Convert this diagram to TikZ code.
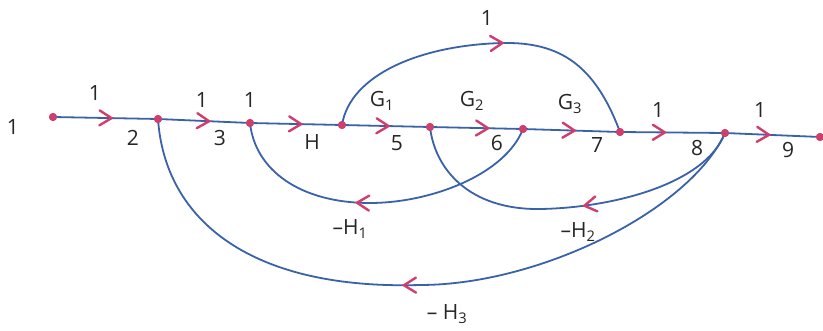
\documentclass[tikz,border=0pt]{standalone}
\usepackage{fontspec}
\setmainfont{Open Sans}
\usetikzlibrary{decorations.markings}
\definecolor{wire}{RGB}{58,98,168}
\definecolor{tipc}{RGB}{208,62,110}
\tikzset{
  wireline/.style={draw=wire, line width=1.8pt},
  chev/.style={postaction={decorate,decoration={markings,mark=at position #1 with {\draw[tipc,line width=2.4pt,line cap=round] (-6pt,-7.5pt)--(6pt,0pt)--(-6pt,7.5pt);}}}},
  sfgdot/.style={circle,fill=tipc,inner sep=0pt,minimum size=8pt},
  lab/.style={font=\fontsize{21}{24}\selectfont, inner sep=0pt, text=black!85}
}
\begin{document}
\begin{tikzpicture}[x=1pt,y=-1pt]
\useasboundingbox[fill=white] (0,0) rectangle (823,331);
% nodes
\node[sfgdot] (n1) at (53,117) {};
\node[sfgdot] (n2) at (158,119) {};
\node[sfgdot] (n3) at (250,123) {};
\node[sfgdot] (n4) at (342,125) {};
\node[sfgdot] (n5) at (430,127) {};
\node[sfgdot] (n6) at (523,129) {};
\node[sfgdot] (n7) at (620,132) {};
\node[sfgdot] (n8) at (725,133) {};
\node[sfgdot] (n9) at (820,137) {};
% main branches
\draw[wireline, chev=0.5]  (n1.center) -- (n2.center);
\draw[wireline, chev=0.49] (n2.center) -- (n3.center);
\draw[wireline, chev=0.49] (n3.center) -- (n4.center);
\draw[wireline, chev=0.46] (n4.center) -- (n5.center);
\draw[wireline, chev=0.56] (n5.center) -- (n6.center);
\draw[wireline, chev=0.47] (n6.center) -- (n7.center);
\draw[wireline, chev=0.37] (n7.center) -- (n8.center);
\draw[wireline, chev=0.40] (n8.center) -- (n9.center);
% feedforward
\draw[wireline, chev=0.53] (n4.center) .. controls (350,75) and (420,45) .. (503,43)
      .. controls (560,42) and (595,65) .. (n7.center);
% feedback loops
\draw[wireline, chev=0.55] (n6.center) .. controls (505,175) and (430,203) .. (370,203)
      .. controls (300,203) and (255,170) .. (n3.center);
\draw[wireline, chev=0.44] (n8.center) .. controls (705,185) and (610,208) .. (540,209)
      .. controls (470,210) and (435,170) .. (n5.center);
\draw[wireline, chev=0.52] (n8.center) .. controls (690,210) and (540,285) .. (420,285)
      .. controls (250,290) and (165,220) .. (n2.center);
% redraw dots on top
\foreach \n in {n1,n2,n3,n4,n5,n6,n7,n8,n9} \fill[tipc] (\n.center) circle (4pt);
% node labels
\node[lab] (t1) at (13,127) {1};
\node[lab] (t2) at (133,138) {2};
\node[lab] (t3) at (220,138) {3};
\node[lab] (t4) at (312,142) {H};
\node[lab] (t5) at (397,143) {5};
\node[lab] (t6) at (497,143) {6};
\node[lab] (t7) at (597,145) {7};
\node[lab] (t8) at (697,148) {8};
\node[lab] (t9) at (788,150) {9};
% gains
\node[lab] (g12) at (95,93) {1};
\node[lab] (g23) at (202,100) {1};
\node[lab] (g34) at (250,100) {1};
\node[lab] (g45) at (382,101) {G\textsubscript{1}};
\node[lab] (g56) at (472,101) {G\textsubscript{2}};
\node[lab] (g67) at (570,104) {G\textsubscript{3}};
\node[lab] (g78) at (658,110) {1};
\node[lab] (g89) at (760,110) {1};
\node[lab] (gff) at (487,18) {1};
\node[lab] (h1) at (350,229) {–H\textsubscript{1}};
\node[lab] (h2) at (578,232) {–H\textsubscript{2}};
\node[lab] (h3) at (447,314) {– H\textsubscript{3}};
\end{tikzpicture}
\end{document}
